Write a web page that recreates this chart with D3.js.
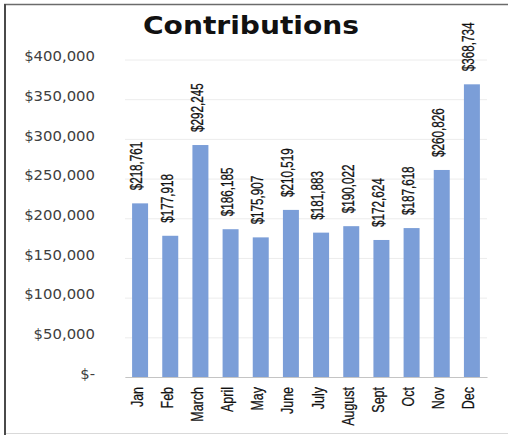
<!DOCTYPE html>
<html>
<head>
<meta charset="utf-8">
<script src="https://cdn.jsdelivr.net/npm/d3@7"></script>
<style>
  html, body { margin: 0; padding: 0; background: #fff; }
  svg { display: block; }
</style>
</head>
<body>
<svg id="chart" width="508" height="435"></svg>
<script>
const months = ["Jan","Feb","March","April","May","June","July","August","Sept","Oct","Nov","Dec"];
const contributions = [218761,177918,292245,186185,175907,210519,181883,190022,172624,187618,260826,368734];
const yTicks = [0,50000,100000,150000,200000,250000,300000,350000,400000];
const title = "Contributions";

const svg = d3.select("#chart");
const W = 508, H = 435;
const plot = {left: 125, right: 487, top: 59.5, bottom: 377};
const narrowFont = "Liberation Sans, Arial, sans-serif";

// frame
svg.append("rect").attr("x",0).attr("y",0).attr("width",W).attr("height",H).attr("fill","#fff");
svg.append("line").attr("x1",4).attr("x2",508).attr("y1",4.5).attr("y2",4.5).attr("stroke","#6b6b6b").attr("stroke-width",1.5);
svg.append("line").attr("x1",5).attr("x2",5).attr("y1",4).attr("y2",435).attr("stroke","#4a4a4a").attr("stroke-width",2);
svg.append("line").attr("x1",6).attr("x2",508).attr("y1",433.5).attr("y2",433.5).attr("stroke","#d9d9d9").attr("stroke-width",1);

const x = d3.scaleBand().domain(months).range([plot.left, plot.right]).paddingInner(0.47).paddingOuter(0.235);
const y = d3.scaleLinear().domain([0,400000]).range([plot.bottom, plot.top]);

// title
svg.append("text").attr("x",251).attr("y",34).attr("text-anchor","middle")
  .attr("font-family","DejaVu Sans, Verdana, sans-serif").attr("font-weight","bold")
  .attr("font-size",24).attr("fill","#111")
  .attr("textLength",216).attr("lengthAdjust","spacingAndGlyphs")
  .text(title);

// y axis with gridlines
const sx = 1.1;
const yAxis = d3.axisLeft(y).tickValues(yTicks).tickSize(-(plot.right-plot.left)).tickPadding(0)
  .tickFormat(d => d === 0 ? "$-" : d3.format("$,")(d));
const gy = svg.append("g").attr("transform",`translate(${plot.left},0)`).call(yAxis);
gy.select(".domain").remove();
gy.selectAll(".tick line").attr("stroke","#ececec").attr("stroke-width",1);
gy.selectAll(".tick text")
  .attr("x", -30/sx).attr("dy","0.32em").attr("y",-3)
  .attr("transform",`scale(${sx},1)`)
  .attr("font-family","DejaVu Sans, Verdana, sans-serif").attr("font-size",13.5)
  .attr("fill","#404040").attr("text-anchor","end");

// bars
svg.append("g").selectAll("rect").data(months).join("rect")
  .attr("x", d => x(d)).attr("width", x.bandwidth())
  .attr("y", (d,i) => y(contributions[i]))
  .attr("height", (d,i) => y(0) - y(contributions[i]))
  .attr("fill","#7b9ed8");

// x axis
const xAxis = d3.axisBottom(x).tickSize(0).tickSizeOuter(0).tickPadding(0);
const gx = svg.append("g").attr("transform",`translate(0,${plot.bottom})`).call(xAxis);
gx.select(".domain").attr("stroke","#c4c4c4").attr("stroke-width",1.2);
gx.selectAll(".tick text")
  .attr("transform","translate(2.5,10) rotate(-90) scale(0.78,1)")
  .attr("x",0).attr("y",0).attr("dy",0)
  .attr("text-anchor","end")
  .attr("font-family",narrowFont)
  .attr("font-size",16).attr("fill","#111")
  .attr("stroke","#111").attr("stroke-width",0.25);

// data labels
svg.append("g").selectAll("text").data(months).join("text")
  .attr("transform", (d,i) => `translate(${x(d)+x.bandwidth()/2+2.3},${y(contributions[i])-13}) rotate(-90) scale(0.73,1)`)
  .attr("text-anchor","start")
  .attr("font-family",narrowFont)
  .attr("font-size",16).attr("fill","#111")
  .attr("stroke","#111").attr("stroke-width",0.3)
  .text((d,i) => d3.format("$,")(contributions[i]));
</script>
</body>
</html>
